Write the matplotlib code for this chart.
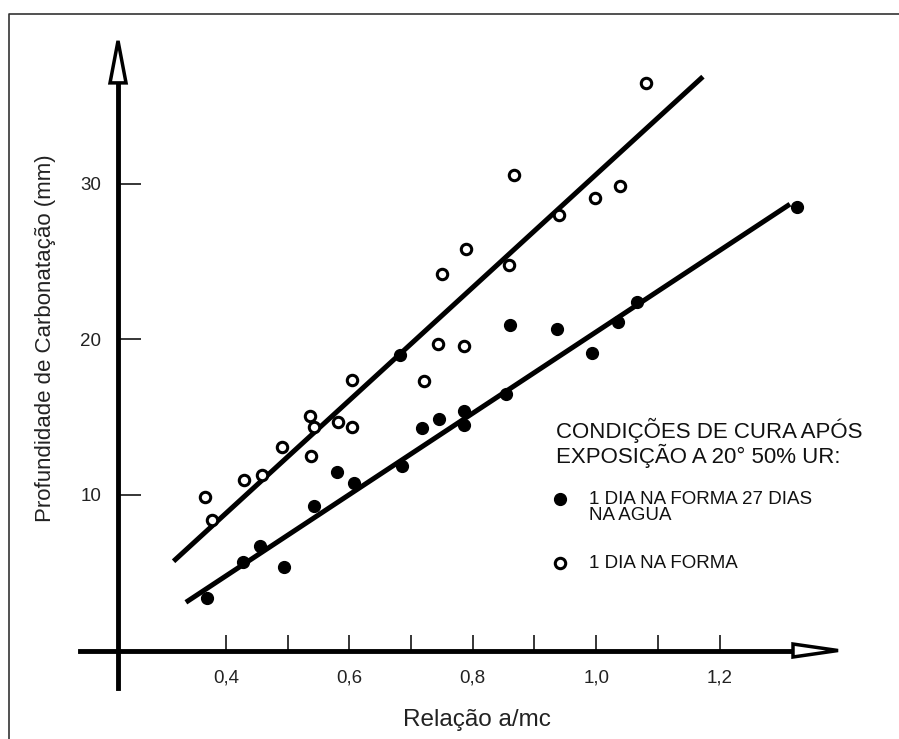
import matplotlib
matplotlib.use('Agg')
import matplotlib.pyplot as plt
from matplotlib.patches import Polygon
from matplotlib.lines import Line2D

plt.rcParams['font.family'] = ['Liberation Sans', 'DejaVu Sans']

# ---- data ----
# 1 dia na forma 27 dias na agua (filled)
agua_x = [0.370, 0.427, 0.455, 0.494, 0.543, 0.580, 0.607, 0.682, 0.686, 0.718,
          0.746, 0.785, 0.785, 0.854, 0.861, 0.936, 0.994, 1.036, 1.066, 1.325]
agua_y = [3.4, 5.7, 6.7, 5.4, 9.3, 11.5, 10.8, 19.0, 11.85, 14.3,
          14.9, 15.4, 14.5, 16.5, 20.9, 20.7, 19.1, 21.1, 22.4, 28.5]
# 1 dia na forma (open)
forma_x = [0.366, 0.378, 0.429, 0.459, 0.490, 0.536, 0.542, 0.537, 0.582, 0.604, 0.605,
           0.721, 0.743, 0.785, 0.750, 0.789, 0.858, 0.866, 0.940, 0.998, 1.039, 1.081]
forma_y = [9.9, 8.4, 10.95, 11.3, 13.1, 15.1, 14.4, 12.5, 14.7, 17.4, 14.4,
           17.3, 19.7, 19.6, 24.2, 25.8, 24.8, 30.6, 28.0, 29.1, 29.9, 36.5]
# regression lines (end points)
fit_forma_x = [0.315, 1.173]
fit_forma_y = [5.74, 36.9]
fit_agua_x = [0.335, 1.314]
fit_agua_y = [3.1, 28.7]

xticks = [0.4, 0.5, 0.6, 0.7, 0.8, 0.9, 1.0, 1.1, 1.2]
xtick_labels = ['0,4', '', '0,6', '', '0,8', '', '1,0', '', '1,2']
yticks = [10, 20, 30]
ytick_labels = ['10', '20', '30']

xlabel = 'Relação a/mc'
ylabel = 'Profundidade de Carbonatação (mm)'
legend_title = ['CONDIÇÕES DE CURA APÓS', 'EXPOSIÇÃO A 20° 50% UR:']
legend_agua = ['1 DIA NA FORMA 27 DIAS', 'NA AGUA']
legend_forma = '1 DIA NA FORMA'

# ---- figure ----
W, H = 899, 739
fig = plt.figure(figsize=(W / 100, H / 100), dpi=100)
ax = fig.add_axes([0, 0, 1, 1])
ax.set_xlim(0.0337, 1.4908)
ax.set_ylim(-5.69, 41.83)
ax.patch.set_alpha(0)

def fx(px):
    return px / W

def fy(py):
    return 1 - py / H

yaxis_x = 0.225
alw = 3.5
for s in ['top', 'right']:
    ax.spines[s].set_visible(False)
ax.spines['left'].set_position(('data', yaxis_x))
ax.spines['bottom'].set_position(('data', 0))
ax.spines['left'].set_bounds(-2.4, 36.5)
ax.spines['bottom'].set_bounds(0.163, 1.319)
for s in ['left', 'bottom']:
    ax.spines[s].set_linewidth(alw)
    ax.spines[s].set_color('black')

ax.set_xticks(xticks)
ax.set_xticklabels(xtick_labels)
ax.set_yticks(yticks)
ax.set_yticklabels(ytick_labels)
ax.tick_params(axis='x', direction='in', length=11.5, width=1.1, pad=14,
               labelsize=13.5, labelcolor='#222222')
ax.tick_params(axis='y', direction='in', length=16.5, width=1.1, pad=12,
               labelsize=13.5, labelcolor='#222222')

# arrow heads (hollow)
hw = 8 / 617
ax.add_patch(Polygon([(yaxis_x - hw, 36.5), (yaxis_x, 39.2), (yaxis_x + hw, 36.5)],
                     closed=True, facecolor='white', edgecolor='black', lw=2.5,
                     zorder=5, clip_on=False))
hh = 6.5 / 15.55
ax.add_patch(Polygon([(1.319, -hh), (1.392, 0), (1.319, hh)],
                     closed=True, facecolor='white', edgecolor='black', lw=2.5,
                     zorder=5, clip_on=False))

# regression lines
ax.plot(fit_forma_x, fit_forma_y, color='black', lw=3.6, solid_capstyle='butt', zorder=3)
ax.plot(fit_agua_x, fit_agua_y, color='black', lw=3.6, solid_capstyle='butt', zorder=3)

# points
ax.plot(agua_x, agua_y, 'o', ms=8.5, color='black', zorder=4)
ax.plot(forma_x, forma_y, 'o', ms=7.5, mfc='white', mec='black', mew=2.2, zorder=4)

# axis labels
fig.text(fx(46), fy(338), ylabel, rotation=90, ha='center', va='center',
         fontsize=16, color='#222222')
fig.text(fx(477), fy(720), xlabel, ha='center', va='center',
         fontsize=17.5, color='#222222')

# legend (manual)
fig.text(fx(556), fy(430), legend_title[0], ha='left', va='center', fontsize=16, color='#111111')
fig.text(fx(556), fy(456), legend_title[1], ha='left', va='center', fontsize=16, color='#111111')
ax.plot([fx(560)], [fy(499)], 'o', ms=8.5, color='black', transform=fig.transFigure, clip_on=False)
fig.text(fx(589), fy(499), legend_agua[0], ha='left', va='center', fontsize=13.5, color='#111111')
fig.text(fx(589), fy(516), legend_agua[1], ha='left', va='center', fontsize=13.5, color='#111111')
ax.plot([fx(560)], [fy(563)], 'o', ms=7.5, mfc='white', mec='black', mew=2.2,
        transform=fig.transFigure, clip_on=False)
fig.text(fx(589), fy(563), legend_forma, ha='left', va='center', fontsize=13.5, color='#111111')

# outer frame (left and top edges visible)
fig.add_artist(Line2D([fx(9), fx(9), 1.01], [-0.01, fy(14), fy(14)],
                      color='#333333', lw=1.2, transform=fig.transFigure))

fig.savefig('out.png', dpi=100, facecolor='white')
